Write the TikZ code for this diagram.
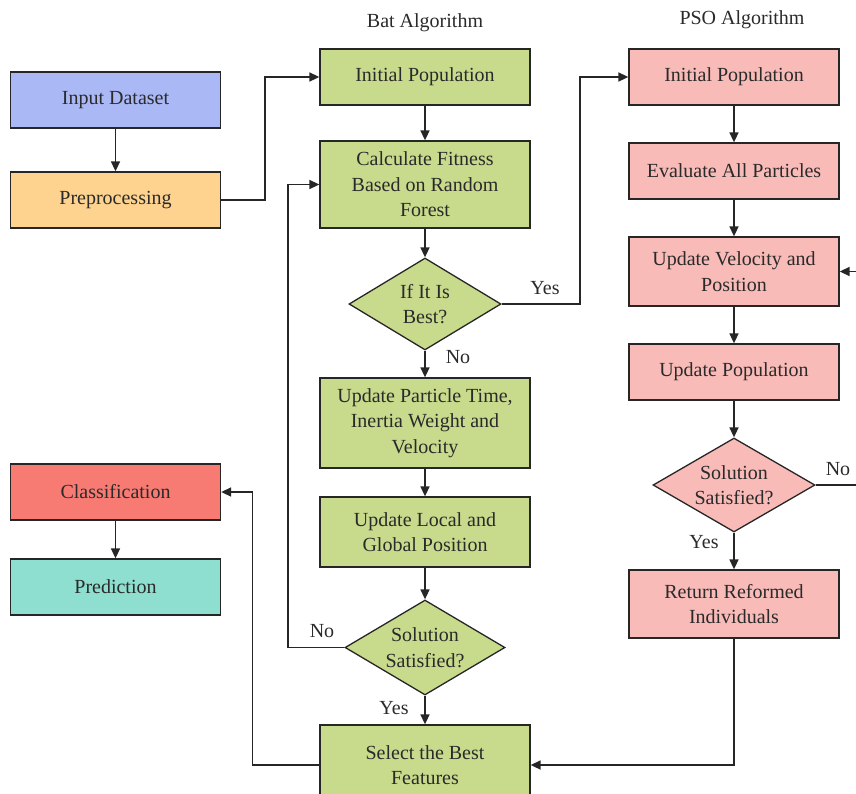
\documentclass[tikz,border=0pt]{standalone}
\usepackage{fontspec}
\setmainfont{Liberation Serif}
\usetikzlibrary{shapes.geometric,arrows.meta}

\definecolor{inblue}{HTML}{AAB8F6}
\definecolor{preorange}{HTML}{FED38F}
\definecolor{batgreen}{HTML}{C8DA8C}
\definecolor{psopink}{HTML}{F8BBB8}
\definecolor{clsred}{HTML}{F77B73}
\definecolor{predteal}{HTML}{8EDFCF}
\definecolor{txt}{HTML}{2A2A2A}

\tikzset{
  box/.style={draw=black!85, line width=1.3pt, text=txt, align=center,
              minimum width=210pt, minimum height=56pt, inner sep=2pt},
  decision/.style={diamond, draw=black!85, line width=1.3pt, inner sep=0pt,
                   label={[text=txt, align=center]center:#1}},
  flow/.style={draw=black!85, line width=1.6pt, -{Triangle[length=10pt,width=9pt]}},
  plain/.style={draw=black!85, line width=1.6pt},
  lbl/.style={text=txt}
}

\begin{document}
\begin{tikzpicture}[x=1pt, y=-1pt, font=\fontsize{20}{25.5}\selectfont]
\useasboundingbox (0,0) rectangle (856,793);
\clip (0,0) rectangle (856,793);

% left column
\node[box, fill=inblue]     (input) at (115.5,100) {Input Dataset};
\node[box, fill=preorange]  (prep)  at (115.5,200) {Preprocessing};
\node[box, fill=clsred]     (cls)   at (115.5,492) {Classification};
\node[box, fill=predteal]   (pred)  at (115.5,587) {Prediction};

% bat algorithm
\node[lbl] (battitle) at (425,23) {Bat Algorithm};
\node[box, fill=batgreen] (binit) at (425,77) {Initial Population};
\node[box, fill=batgreen, minimum height=87pt] (bfit) at (425,184.5)
  {Calculate Fitness\\Based on Random\\Forest};
\node[decision={If It Is\\Best?}, fill=batgreen, minimum width=152pt,
  minimum height=92pt] (bbest) at (425,304) {};
\node[box, fill=batgreen, minimum height=90pt] (bupd) at (425,423)
  {Update Particle Time,\\Inertia Weight and\\Velocity};
\node[box, fill=batgreen, minimum height=70pt] (bpos) at (425,532)
  {Update Local and\\Global Position};
\node[decision={Solution\\Satisfied?}, fill=batgreen, minimum width=160pt,
  minimum height=95pt] (bsol) at (425,647.5) {};
\node[box, fill=batgreen, minimum height=80pt] (best) at (425,765)
  {Select the Best\\Features};

% pso algorithm
\node[lbl] (psotitle) at (742,20) {PSO Algorithm};
\node[box, fill=psopink] (pinit) at (734,77) {Initial Population};
\node[box, fill=psopink] (peval) at (734,171) {Evaluate All Particles};
\node[box, fill=psopink, minimum height=69pt] (pvel) at (734,271.5)
  {Update Velocity and\\Position};
\node[box, fill=psopink] (ppop) at (734,372) {Update Population};
\node[decision={Solution\\Satisfied?}, fill=psopink, minimum width=162pt,
  minimum height=94pt] (psol) at (734,485) {};
\node[box, fill=psopink, minimum height=68pt] (pret) at (734,604)
  {Return Reformed\\Individuals};

\coordinate (pnoend) at (880,485);

% connectors
\draw[flow] (input) -- (prep);
\draw[flow] (prep.east) -- (265,200) |- (binit.west);
\draw[flow] (binit) -- (bfit);
\draw[flow] (bfit) -- (bbest);
\draw[flow] (bbest.east) -- (580,304) |- (pinit.west);
\draw[flow] (bbest) -- (bupd);
\draw[flow] (bupd) -- (bpos);
\draw[flow] (bpos) -- (bsol);
\draw[flow] (bsol.west) -- (288,647.5) |- (bfit.west);
\draw[flow] (bsol) -- (best);
\draw[flow] (best.west) -- ++(-67,0) |- (cls.east);
\draw[flow] (cls) -- (pred);

\draw[flow] (pinit) -- (peval);
\draw[flow] (peval) -- (pvel);
\draw[flow] (pvel) -- (ppop);
\draw[flow] (ppop) -- (psol);
\draw[flow] (psol) -- (pret);
\draw[flow] (pret.south) |- (best.east);
\draw[plain] (psol.east) -- (pnoend);
\draw[flow] (pnoend) |- (pvel.east);

% labels
\node[lbl] at (545,288) {Yes};
\node[lbl] at (458,357) {No};
\node[lbl] at (322,631) {No};
\node[lbl] at (394,708) {Yes};
\node[lbl] at (704,542) {Yes};
\node[lbl] at (838,469) {No};
\end{tikzpicture}
\end{document}
